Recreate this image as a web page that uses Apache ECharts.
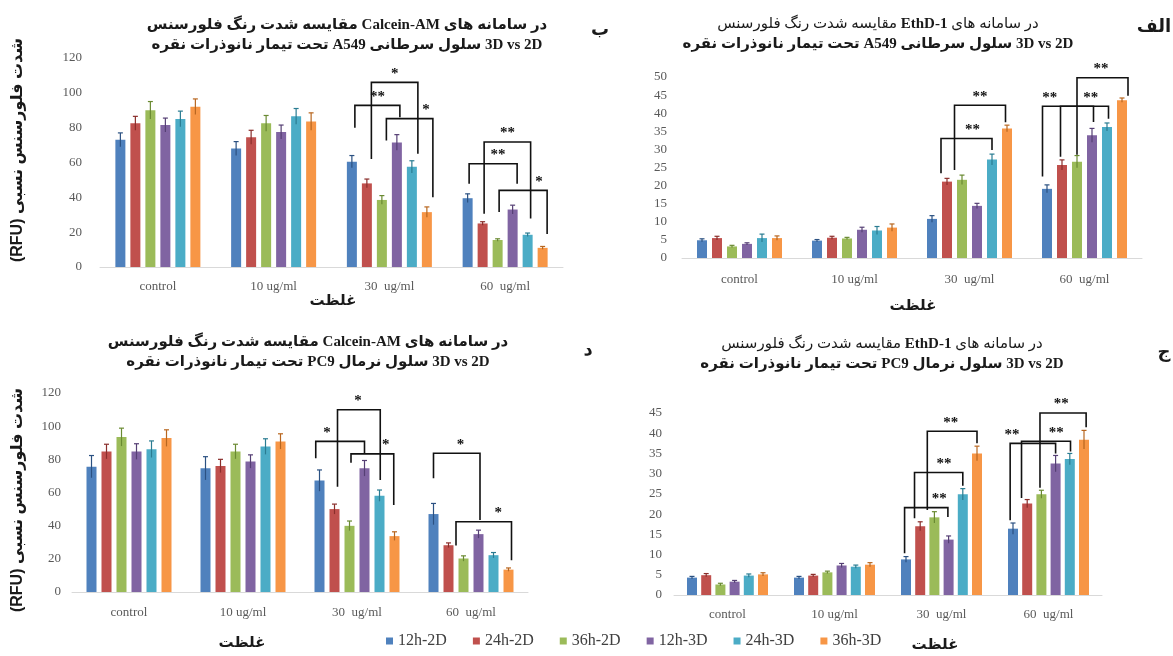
<!DOCTYPE html>
<html><head><meta charset="utf-8">
<script src="https://cdn.jsdelivr.net/npm/echarts@6/dist/echarts.min.js"></script>
<style>html,body{margin:0;padding:0;background:#fff}#c{width:1173px;height:656px}</style>
</head><body><div id="c"></div>
<script>
const categories = ['control', '10 ug/ml', '30  ug/ml', '60  ug/ml'];
const seriesNames = ['12h-2D', '24h-2D', '36h-2D', '12h-3D', '24h-3D', '36h-3D'];

// ب : Calcein-AM, A549 (rows = series, cols = categories)
const calceinA549Values = [
  [73, 68, 60.5, 39.5],
  [82.5, 74.5, 48, 25],
  [90, 82.5, 38.5, 15.5],
  [81.5, 77.5, 71.5, 33],
  [85, 86.5, 57.5, 18.5],
  [92, 83.5, 31.5, 11]
];
const calceinA549Errors = [
  [4, 4, 3.5, 2.5],
  [4, 4, 2.5, 1],
  [5, 4.5, 2.5, 0.7],
  [4, 4, 4.5, 2.5],
  [4.5, 4.5, 3.5, 1],
  [4.5, 5, 3, 0.8]
];
// [category, from bar, to bar, top, left leg end, right leg end, label pos, label]
const calceinA549Brackets = [
  [2, 0.2, 3.2, 92.8, 80, 86, 0.5, '**'],
  [2, 1.3, 4.4, 106, 62, 65, 0.5, '*'],
  [2, 2.3, 5.4, 85.2, 72.7, 40, 0.85, '*'],
  [3, 0.1, 3.3, 59.3, 47.8, 47.8, 0.6, '**'],
  [3, 1.1, 4.2, 71.8, 30.6, 27.8, 0.5, '**'],
  [3, 2.1, 5.3, 44, 31.6, 19, 0.83, '*']
];

// الف : EthD-1, A549
const ethdA549Values = [
  [4.9, 4.8, 10.8, 19.1],
  [5.5, 5.6, 21.1, 25.7],
  [3.2, 5.4, 21.6, 26.6],
  [3.9, 7.8, 14.4, 33.9],
  [5.5, 7.6, 27.2, 36.2],
  [5.5, 8.4, 35.8, 43.6]
];
const ethdA549Errors = [
  [0.4, 0.3, 0.9, 1.1],
  [0.5, 0.4, 0.9, 1.4],
  [0.3, 0.3, 1.3, 1.7],
  [0.3, 0.7, 0.7, 1.9],
  [1.1, 1.1, 1.5, 1.1],
  [0.6, 1.0, 0.9, 0.6]
];
const ethdA549Brackets = [
  [2, 0.6, 4.0, 33, 23.4, 29.8, 0.62, '**'],
  [2, 1.5, 4.9, 42.2, 24.3, 37.5, 0.5, '**'],
  [3, -0.3, 3.1, 41.9, 22.5, 37.6, 0.14, '**'],
  [3, 0.9, 4.1, 41.9, 28, 38.5, 0.63, '**'],
  [3, 2.0, 5.4, 49.8, 28.5, 44.8, 0.47, '**']
];

// د : Calcein-AM, PC9
const calceinPC9Values = [
  [75.6, 74.6, 67.2, 47],
  [84.7, 76, 50, 28.2],
  [93.4, 84.7, 39.9, 20.2],
  [84.7, 78.7, 74.6, 34.9],
  [86.1, 87.7, 58.1, 22.2],
  [92.8, 90.8, 33.7, 13.5]
];
const calceinPC9Errors = [
  [6.7, 7, 6.4, 6.4],
  [4.4, 4, 3, 1.4],
  [5.4, 4.4, 2.9, 1.6],
  [4.7, 4, 4.7, 2.4],
  [5, 4.7, 3.4, 1.6],
  [5, 4.6, 2.6, 1]
];
const calceinPC9Brackets = [
  [2, -0.25, 3.0, 90.8, 80.7, 83.7, 0.23, '*'],
  [2, 1.2, 4.05, 109.9, 63.5, 67.6, 0.48, '*'],
  [2, 2.1, 4.95, 83.3, 78, 52.4, 0.81, '*'],
  [3, 0, 3.1, 83.7, 68.6, 43.4, 0.58, '*'],
  [3, 1.5, 5.2, 42.4, 28, 19.2, 0.76, '*']
];

// ج : EthD-1, PC9
const ethdPC9Values = [
  [4.3, 4.3, 8.8, 16.4],
  [4.9, 4.8, 17, 22.6],
  [2.6, 5.6, 19.2, 24.9],
  [3.3, 7.3, 13.7, 32.5],
  [4.8, 7.0, 24.9, 33.6],
  [5.1, 7.5, 35, 38.4]
];
const ethdPC9Errors = [
  [0.3, 0.3, 0.7, 1.4],
  [0.4, 0.3, 1.1, 1],
  [0.3, 0.3, 1.4, 1],
  [0.3, 0.5, 0.9, 2],
  [0.4, 0.4, 1.4, 1.4],
  [0.4, 0.5, 1.8, 2.3]
];
const ethdPC9Brackets = [
  [2, -0.1, 2.95, 21.6, 10.3, 19.3, 0.8, '**'],
  [2, 0.6, 4.0, 30.3, 19, 27, 0.61, '**'],
  [2, 1.5, 5.0, 40.5, 21, 37.5, 0.47, '**'],
  [3, -0.2, 3.0, 37.5, 18.5, 35, 0.04, '**'],
  [3, 0.6, 4.05, 38, 24, 35.5, 0.71, '**'],
  [3, 1.9, 5.15, 45, 26.5, 41.5, 0.46, '**']
];

const colors = ['#4F81BD', '#C0504D', '#9BBB59', '#8064A2', '#4BACC6', '#F79646'];
const errColors = ['#2B5182', '#8A2E2B', '#6A8A32', '#553F74', '#2A7C92', '#B8661F'];

const panels = [
  { values: calceinA549Values, errors: calceinA549Errors, brackets: calceinA549Brackets,
    grid: { left: 100, top: 58, width: 463, height: 209 }, max: 120, interval: 20, gap: 0.5, labelMargin: 13, yMargin: 18 },
  { values: ethdA549Values, errors: ethdA549Errors, brackets: ethdA549Brackets,
    grid: { left: 682, top: 77, width: 460, height: 181 }, max: 50, interval: 5, gap: 0.5, labelMargin: 15, yMargin: 15 },
  { values: calceinPC9Values, errors: calceinPC9Errors, brackets: calceinPC9Brackets,
    grid: { left: 72, top: 393, width: 456, height: 199 }, max: 120, interval: 20, gap: 0.5, labelMargin: 14, yMargin: 11 },
  { values: ethdPC9Values, errors: ethdPC9Errors, brackets: ethdPC9Brackets,
    grid: { left: 674, top: 413, width: 428, height: 182 }, max: 45, interval: 5, gap: 0.42, labelMargin: 13, yMargin: 12 }
];

const barWidth = 10;
const serif = '"Liberation Serif", "DejaVu Sans"';
const option = {
  animation: false,
  backgroundColor: '#ffffff',
  grid: [], xAxis: [], yAxis: [], series: [],
  legend: {
    data: seriesNames, left: 381, top: 628, icon: 'rect', itemWidth: 7, itemHeight: 7, itemGap: 26,
    textStyle: { fontFamily: serif, fontSize: 16, color: '#404040' }
  },
  graphic: []
};

panels.forEach((p, gi) => {
  option.grid.push(Object.assign({ outerBoundsMode: 'none' }, p.grid));
  option.xAxis.push({
    type: 'category', gridIndex: gi, data: categories,
    axisLine: { lineStyle: { color: '#d9d9d9', width: 1 } }, axisTick: { show: false },
    axisLabel: { fontFamily: serif, fontSize: 13, color: '#595959', margin: p.labelMargin }
  });
  option.yAxis.push({
    type: 'value', gridIndex: gi, min: 0, max: p.max, interval: p.interval,
    splitLine: { show: false }, axisLine: { show: false }, axisTick: { show: false },
    axisLabel: { fontFamily: serif, fontSize: 13, color: '#595959', margin: p.yMargin }
  });
  const step = barWidth * (1 + p.gap);
  seriesNames.forEach((name, si) => {
    option.series.push({
      type: 'bar', name, xAxisIndex: gi, yAxisIndex: gi, data: p.values[si],
      barWidth, barGap: Math.round(p.gap * 100) + '%', itemStyle: { color: colors[si] }
    });
  });
  const errData = [];
  p.values.forEach((row, si) => row.forEach((v, ci) => errData.push([ci, v, p.errors[si][ci], si])));
  option.series.push({
    type: 'custom', xAxisIndex: gi, yAxisIndex: gi, data: errData, encode: { x: 0, y: 1 }, z: 4, silent: true,
    renderItem(params, api) {
      const ci = api.value(0), v = api.value(1), e = api.value(2), si = api.value(3);
      const top = api.coord([ci, v + e]);
      const bot = api.coord([ci, v - e]);
      const x = top[0] + (si - 2.5) * step;
      const st = { stroke: errColors[si], lineWidth: 1.2 };
      return { type: 'group', children: [
        { type: 'line', shape: { x1: x, y1: top[1], x2: x, y2: bot[1] }, style: st },
        { type: 'line', shape: { x1: x - 2.5, y1: top[1], x2: x + 2.5, y2: top[1] }, style: st }
      ] };
    }
  });
  option.series.push({
    type: 'custom', xAxisIndex: gi, yAxisIndex: gi, data: p.brackets.map(b => [b[0], b[3]]),
    encode: { x: 0, y: 1 }, z: 5, silent: true, clip: false,
    renderItem(params, api) {
      const b = p.brackets[params.dataIndex];
      const c = api.coord([b[0], b[3]]);
      const x1 = c[0] + (b[1] - 2.5) * step, x2 = c[0] + (b[2] - 2.5) * step, yt = c[1];
      const yb1 = api.coord([b[0], b[4]])[1], yb2 = api.coord([b[0], b[5]])[1];
      return { type: 'group', children: [
        { type: 'polyline', shape: { points: [[x1, yb1], [x1, yt], [x2, yt], [x2, yb2]] },
          style: { stroke: '#111', lineWidth: 1.6, fill: null } },
        { type: 'text', x: x1 + b[6] * (x2 - x1), y: yt - 1,
          style: { text: b[7], font: 'bold 15px ' + serif, fill: '#111', align: 'center', verticalAlign: 'bottom' } }
      ] };
    }
  });
});

function txt(x, y, text, font, extra) {
  return Object.assign({ type: 'text', x, y, silent: true,
    style: { text, font, fill: '#1a1a1a', align: 'center', verticalAlign: 'middle', lineHeight: 20 } }, extra || {});
}
// Title lines are written as tokens in their visual left-to-right order
function title(x, y, dye, cell, line) {
  const p1 = dye === 'EthD-1' ? 'n' : 'b';
  const text =
    '{' + p1 + '|مقایسه شدت رنگ فلورسنس }{b|' + dye + '}{' + p1 + '| در سامانه های}\n' +
    '{b|تحت تیمار نانوذرات نقره }{b|' + cell + '}{b| سلول ' + line + ' }{b|3D vs 2D}';
  return { type: 'text', x, y, silent: true, style: {
    text, align: 'center', verticalAlign: 'middle', fill: '#1a1a1a',
    rich: {
      b: { fontFamily: serif, fontSize: 15, fontWeight: 'bold', lineHeight: 20, fill: '#1a1a1a' },
      n: { fontFamily: serif, fontSize: 15, fontWeight: 'normal', lineHeight: 20, fill: '#1a1a1a' }
    }
  } };
}
option.graphic.push(
  title(347, 35, 'Calcein-AM', 'A549', 'سرطانی'),
  title(878, 34, 'EthD-1', 'A549', 'سرطانی'),
  title(308, 352, 'Calcein-AM', 'PC9', 'نرمال'),
  title(882, 354, 'EthD-1', 'PC9', 'نرمال'),
  txt(600, 30, 'ب', 'bold 18px "DejaVu Sans"'),
  txt(1154, 27, 'الف', 'bold 18px "DejaVu Sans"'),
  txt(588, 350, 'د', 'bold 18px "DejaVu Sans"'),
  txt(1164, 352, 'ج', 'bold 18px "DejaVu Sans"'),
  txt(333, 301, 'غلظت', 'bold 15px "DejaVu Sans"'),
  txt(913, 306, 'غلظت', 'bold 15px "DejaVu Sans"'),
  txt(242, 643, 'غلظت', 'bold 15px "DejaVu Sans"'),
  txt(935, 645, 'غلظت', 'bold 15px "DejaVu Sans"'),
  txt(18, 150, '(RFU) شدت فلورسنس نسبی', 'bold 16px "Liberation Sans", "DejaVu Sans"', { rotation: Math.PI / 2 }),
  txt(18, 500, '(RFU) شدت فلورسنس نسبی', 'bold 16px "Liberation Sans", "DejaVu Sans"', { rotation: Math.PI / 2 })
);

const chart = echarts.init(document.getElementById('c'), null, { renderer: 'canvas' });
chart.setOption(option);
</script>
</body></html>
